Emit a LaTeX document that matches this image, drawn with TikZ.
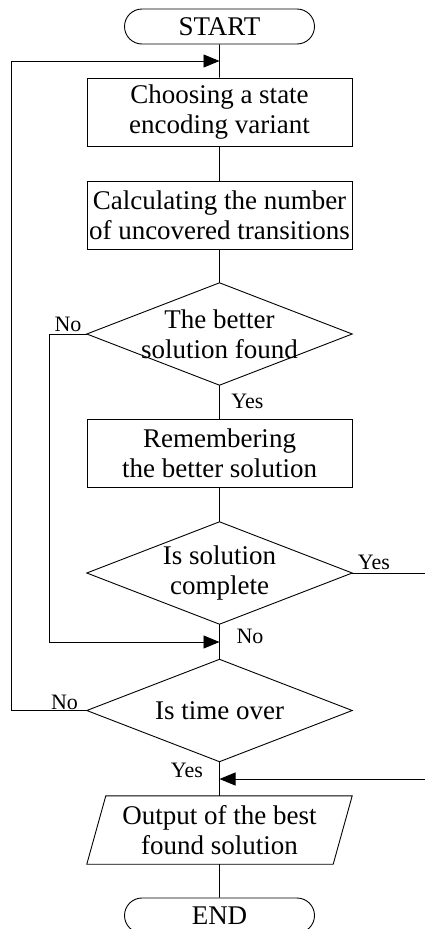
\documentclass[tikz,border=0pt]{standalone}
\usepackage{fontspec}
\setmainfont{Liberation Serif}
\usetikzlibrary{positioning}
\usetikzlibrary{shapes.misc}
\usetikzlibrary{arrows.meta}

\tikzset{
  terminal/.style={rounded rectangle,draw,line width=0.9pt,minimum width=190pt,minimum height=35pt,inner sep=0pt,font=\fontsize{27}{30}\selectfont},
  process/.style={rectangle,draw,line width=0.9pt,minimum width=265pt,minimum height=68pt,inner sep=0pt,align=center,font=\fontsize{27}{30}\selectfont},
  decision/.style={rectangle,minimum width=265pt,minimum height=102pt,inner sep=0pt,align=center,font=\fontsize{27}{30}\selectfont},
  inout/.style={rectangle,minimum width=265pt,minimum height=68pt,inner sep=0pt,align=center,font=\fontsize{27}{30}\selectfont},
  answer/.style={inner sep=0pt,font=\fontsize{22}{24}\selectfont},
  flow/.style={line width=0.9pt},
  back/.style={flow,-{Triangle[length=16pt,width=13pt]}}
}

\begin{document}
\begin{tikzpicture}[x=1pt,y=-1pt]
\useasboundingbox (0,0) rectangle (425,929);

\node[terminal] (start) at (219.5,26.5) {START};
\node[process] (choose) at (219.5,112) {Choosing a state\\encoding variant};
\node[process] (count) at (219.5,215) {Calculating the number\\of uncovered transitions};
\node[decision] (better) at (219.5,334) {The better\\solution found};
\node[process] (remember) at (219.5,453.5) {Remembering\\the better solution};
\node[decision] (complete) at (219.5,573) {Is solution\\complete};
\node[decision] (time) at (219.5,710.5) {Is time over};
\node[inout] (output) at (219.5,830) {Output of the best\\found solution};
\node[terminal] (end) at (219.5,915.5) {END};

\foreach \d in {better,complete,time}
  \draw[flow] (\d.north) -- (\d.east) -- (\d.south) -- (\d.west) -- cycle;
\draw[flow] (output.south west) -- ([xshift=19pt]output.north west) -- (output.north east) -- ([xshift=-19pt]output.south east) -- cycle;

\coordinate (restart) at (219.5,61);
\coordinate (merge) at (219.5,642);
\coordinate (finish) at (219.5,779);
\coordinate (farleft) at (11,0);
\coordinate (nearleft) at (49,0);
\coordinate (farright) at (427,0);

\draw[flow] (start) -- (choose);
\draw[flow] (choose) -- (count);
\draw[flow] (count) -- (better);
\draw[flow] (better) -- (remember);
\draw[flow] (remember) -- (complete);
\draw[flow] (complete) -- (time);
\draw[flow] (time) -- (output);
\draw[flow] (output) -- (end);

\draw[back] (better.west) -- (better.west -| nearleft) -- (merge -| nearleft) -- (merge);
\draw[back] (time.west) -- (time.west -| farleft) -- (restart -| farleft) -- (restart);
\draw[back] (complete.east) -- (complete.east -| farright) -- (finish -| farright) -- (finish);

\node[answer] (no1) at (68,324) {No};
\node[answer] (yes1) at (247.5,401) {Yes};
\node[answer] (yes2) at (374,562.5) {Yes};
\node[answer] (no2) at (250,636.5) {No};
\node[answer] (no3) at (64.5,702) {No};
\node[answer] (yes3) at (187,770) {Yes};

\end{tikzpicture}
\end{document}
